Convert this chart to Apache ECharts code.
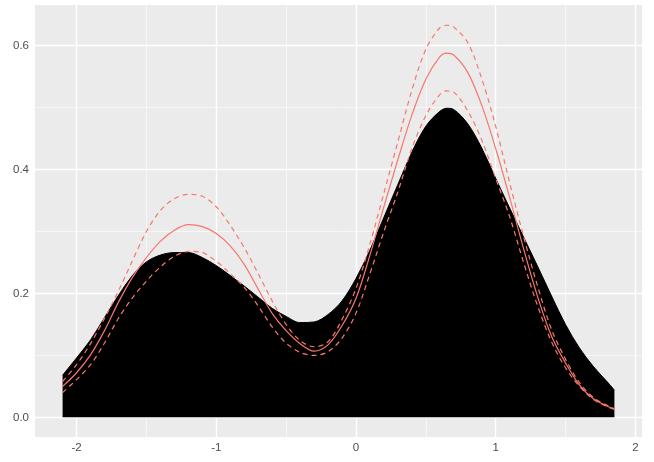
<!DOCTYPE html>
<html>
<head>
<meta charset="utf-8">
<script src="https://cdn.jsdelivr.net/npm/echarts@6/dist/echarts.min.js"></script>
<style>
html,body{margin:0;padding:0;background:#fff;}
#chart{width:654px;height:462px;}
</style>
</head>
<body>
<div id="chart"></div>
<script>
// x positions (shared by all curves)
var xs = [-2.1,-2.0,-1.9,-1.8,-1.7,-1.6,-1.5,-1.4,-1.3,-1.2,-1.1,-1.0,-0.9,-0.8,-0.7,-0.6,-0.5,-0.4,-0.3,-0.2,-0.1,0.0,0.1,0.2,0.3,0.4,0.5,0.6,0.65,0.7,0.8,0.9,1.0,1.1,1.2,1.3,1.4,1.5,1.6,1.7,1.8,1.85];
// black filled density
var blackArea = [0.068,0.096,0.125,0.161,0.197,0.229,0.251,0.262,0.266,0.266,0.258,0.245,0.229,0.212,0.194,0.176,0.163,0.153,0.154,0.166,0.188,0.224,0.270,0.323,0.376,0.428,0.470,0.494,0.499,0.497,0.474,0.435,0.386,0.338,0.291,0.244,0.196,0.150,0.112,0.082,0.057,0.044];
// red solid curve
var solidLine = [0.050,0.072,0.101,0.140,0.186,0.226,0.258,0.284,0.302,0.311,0.308,0.297,0.277,0.247,0.207,0.168,0.140,0.119,0.107,0.117,0.148,0.192,0.262,0.340,0.416,0.488,0.546,0.582,0.588,0.585,0.557,0.504,0.434,0.355,0.272,0.195,0.131,0.088,0.052,0.030,0.018,0.0136];
// red dashed upper band
var upperLine = [0.058,0.085,0.119,0.160,0.204,0.253,0.300,0.334,0.353,0.360,0.357,0.340,0.310,0.274,0.232,0.188,0.150,0.124,0.114,0.122,0.158,0.208,0.280,0.362,0.445,0.528,0.594,0.629,0.633,0.630,0.605,0.547,0.470,0.379,0.292,0.212,0.142,0.094,0.056,0.032,0.019,0.014];
// red dashed lower band
var lowerLine = [0.040,0.061,0.085,0.120,0.160,0.193,0.220,0.243,0.260,0.268,0.266,0.252,0.232,0.210,0.180,0.146,0.120,0.105,0.100,0.106,0.128,0.168,0.232,0.300,0.364,0.434,0.487,0.521,0.527,0.525,0.495,0.448,0.386,0.324,0.250,0.180,0.122,0.080,0.050,0.029,0.017,0.013];
// axis ticks
var xTicks = [-2,-1,0,1,2];
var xMinor = [-1.5,-0.5,0.5,1.5];
var yTicks = [0,0.2,0.4,0.6];
var yMinor = [0.1,0.3,0.5];

function pairs(arr){ return xs.map(function(x,i){ return [x, arr[i]]; }); }

var chart = echarts.init(document.getElementById('chart'), null, {renderer:'canvas'});
var red = '#F8766D';
var font = 'Liberation Sans, Arial, sans-serif';
var SM = 0.33;

var gridLines = [];
xTicks.forEach(function(v){ gridLines.push({xAxis:v, lineStyle:{color:'#fff', width:1.4, type:'solid'}}); });
xMinor.forEach(function(v){ gridLines.push({xAxis:v, lineStyle:{color:'#fff', width:0.6, type:'solid'}}); });
yTicks.forEach(function(v){ gridLines.push({yAxis:v, lineStyle:{color:'#fff', width:1.4, type:'solid'}}); });
yMinor.forEach(function(v){ gridLines.push({yAxis:v, lineStyle:{color:'#fff', width:0.6, type:'solid'}}); });

var option = {
  animation:false,
  backgroundColor:'#ffffff',
  grid:{left:35, right:12, top:5, bottom:25, show:true, backgroundColor:'#EBEBEB', borderWidth:0},
  xAxis:{
    type:'value', min:-2.2975, max:2.0475,
    splitLine:{show:false},
    axisLine:{show:false},
    axisTick:{show:true, customValues:xTicks, length:4, lineStyle:{color:'#333333', width:1}},
    axisLabel:{customValues:xTicks, color:'#4D4D4D', fontSize:11.5, fontFamily:font, margin:5,
      formatter:function(v){ return String(v); }}
  },
  yAxis:{
    type:'value', min:-0.0317, max:0.6657,
    splitLine:{show:false},
    axisLine:{show:false},
    axisTick:{show:true, customValues:yTicks, length:4, lineStyle:{color:'#333333', width:1}},
    axisLabel:{customValues:yTicks, color:'#4D4D4D', fontSize:11.5, fontFamily:font, margin:6,
      formatter:function(v){ return v.toFixed(1); }}
  },
  series:[
    {type:'line', data:[], z:1, silent:true, symbol:'none',
      markLine:{silent:true, symbol:['none','none'], label:{show:false}, z:1, animation:false, data:gridLines}},
    {type:'line', data:pairs(blackArea), z:3, smooth:SM, symbol:'none', silent:true,
      lineStyle:{color:'#000', width:1}, areaStyle:{color:'#000', opacity:1}},
    {type:'line', data:pairs(upperLine), z:4, smooth:SM, symbol:'none', silent:true,
      lineStyle:{color:red, width:1.2, type:[5,4]}},
    {type:'line', data:pairs(solidLine), z:4, smooth:SM, symbol:'none', silent:true,
      lineStyle:{color:red, width:1.2}},
    {type:'line', data:pairs(lowerLine), z:4, smooth:SM, symbol:'none', silent:true,
      lineStyle:{color:red, width:1.2, type:[5,4]}}
  ]
};
chart.setOption(option);
</script>
</body>
</html>
